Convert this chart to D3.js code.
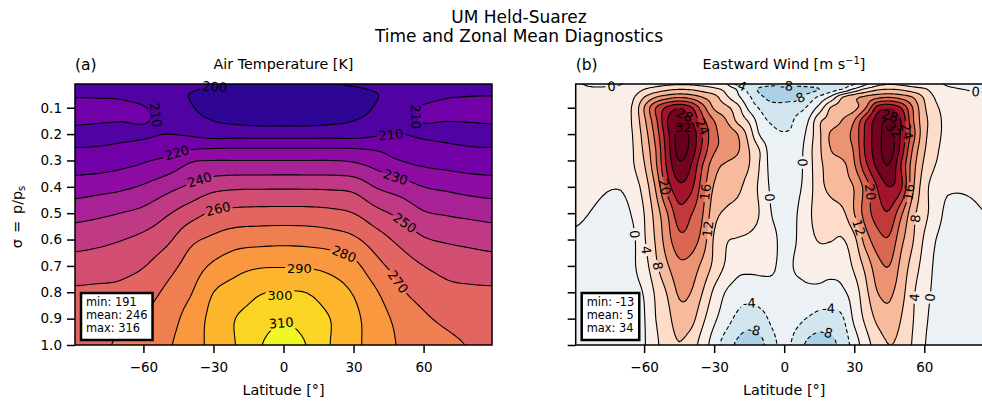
<!DOCTYPE html>
<html>
<head>
<meta charset="utf-8">
<script src="https://cdn.jsdelivr.net/npm/d3@7"></script>
<style>
  html, body { margin: 0; padding: 0; background: #fff; overflow: hidden; }
  text { font-family: "DejaVu Sans", sans-serif; fill: #000; }
</style>
</head>
<body>
<script>
var w = 982;
var h = 401;

var tempLats = d3.range(-90, 91, 10);
var tempSigmas = [0.01, 0.05, 0.1, 0.15, 0.2, 0.25, 0.3, 0.4, 0.5, 0.6, 0.7, 0.8, 0.9, 1.0];
var tempValues = [
  [205,205,205,204,203,202,200.7,199.7,199,199,199,199.7,200.7,202,203,204,205,205,205],
  [208.7,208.5,208,205.5,203,199.8,197,195,194,194,194,195,197,199.8,203,205.5,208.5,209.3,209.5],
  [214,213.5,213,210.6,205.5,200.8,196.5,192.5,191.5,191,191.5,192.5,196.5,200.8,205.5,211,213,213.7,214],
  [211.5,210.7,210.2,210.5,207.5,203.5,200,198,197,197,197,198,200,203.5,207.5,210.3,210.1,210.4,210.9],
  [207.5,207.5,207.8,208.5,210,208.7,206,206.3,206,206,206,206.3,206,208.7,210,208.5,207.8,207.5,207.5],
  [210,210.2,211.5,213.5,216,218,219,219.2,219.2,219.2,219.2,219.2,219,218,216,213.5,211.5,210.2,210],
  [214.5,214.7,216.5,219,222.5,229,230,230,230,230,230,230,229,225.5,220,217.5,216,214.8,214.5],
  [224.8,226.2,228,231.2,236.5,241.7,246.7,248.3,248.5,248.6,248.5,248.2,246.7,239.2,235,230,228,226,224.8],
  [236.2,237.8,240,242.8,248.8,255.5,261.6,263,263.5,263.6,263.5,262.5,260,252.9,247.5,241,239,237.5,236.2],
  [246,247.3,249.5,252.6,257.8,267.5,272,275.6,276.5,277,276.5,275,271.8,264.5,257.3,251,248.7,247.3,246],
  [254.2,255.2,256.8,259.5,266,274.1,281.7,286.7,289,289.3,289,287,282.7,273,265.6,260,256.8,255.2,254.2],
  [261.5,262,262.5,265.7,271.9,279,290,294.4,299.3,300.5,299.8,295,289.3,280.6,271.5,266.2,262.6,261.8,261.5],
  [265,266.5,268.5,271,275.5,284,293,300.4,304.5,308.5,305,300,292.5,284.5,277,271.5,268,266,265],
  [267,268.5,271,274,278.5,285.5,293,300.5,309.3,316,309.7,300,292.5,285.5,279,275,272,269.5,268]
];
var tempLevels = d3.range(180, 321, 10);
var tempLines = d3.range(200, 311, 10);
// level, lat, sigma of each inline contour label, optional fixed rotation
var tempLabels = [
  [200,-29.5,0.02,4],[210,-54.7,0.128,82],[220,-45,0.273],[240,-37,0.368],[260,-28.7,0.487],
  [210,56.7,0.134,88],[210,46.7,0.2],[230,49,0.358],[250,51,0.538],[270,48,0.76],
  [280,25,0.656],[290,6.8,0.71,0],[300,-1.5,0.81,0],[310,-1,0.916,-5]
];
var tempStats = ["min: 191", "mean: 246", "max: 316"];

var windLats = [-90,-80,-70,-65,-60,-55,-50,-45,-40,-35,-30,-25,-20,-15,-10,-5,0,5,10,15,20,25,30,35,40,45,50,55,60,65,70,80,90];
var windSigmas = [0.01, 0.03, 0.06, 0.1, 0.15, 0.2, 0.26, 0.32, 0.4, 0.5, 0.6, 0.7, 0.8, 0.9, 1.0];
var windValues = [
  [.3,-.5,-.1,1,2,2.8,3.4,3.7,3.6,3,2.2,.5,-4,-5,-6,-6.7,-6.8,-6.6,-6,-5.5,-5,-4.8,-4.3,-.5,3,3.8,3.4,2.5,1.5,.5,-.3,-1,-1],
  [.5,.4,1,1.8,4,5.8,7.2,7.9,7.6,6.5,5,3,-.5,-5.3,-9,-10.5,-10.5,-10,-9.4,-8,-5.8,-3.7,.9,5,7.4,8,7.5,6,4.6,2,.6,-.2,-.2],
  [.5,1,2.5,3.4,8,12,14.4,15.7,14.6,12,9.5,5,1,-3.4,-7.2,-9.5,-9.5,-8.7,-6.3,-3.2,1,8,11,13,15,15.8,14.5,12,7.5,3.5,2,.7,.5],
  [.7,1.3,2.8,4.3,12,20,25,27.5,24.8,17.8,11.5,9.1,5.4,-1.1,-4.6,-6.2,-6.4,-5.5,-3.5,1.5,8.3,9.5,10.8,16,25.7,27.4,24,16,8.6,4.6,2.6,1,.6],
  [1,1.6,2.5,4.3,11,19,28,32,28.5,21.4,16,12.3,7.2,3.4,-2.5,-4.6,-5.7,-3.4,-.4,7.2,9.4,12.3,16,24,30,32.4,28,16.8,9.4,5.5,2.6,1.3,1],
  [1.8,2,2.6,4,9.8,17.5,26.8,33.6,31,24,17,14.8,12,6.2,-.8,-3,-3.7,-3,1,7.2,12.6,14.6,17.3,25,30.3,33.8,27.5,18,9.3,5.3,2.8,2,1.8],
  [2.5,2.5,1.8,3.7,8.8,16,26,33.5,30.7,23,16.5,15,12.6,8,3.4,-2.7,-3.2,-2.5,2,7.2,12,14,16.5,25,30.3,34,26.5,15.7,8.4,4.7,2.4,2.3,2.4],
  [3,1.6,1.2,3.5,7.6,15.2,25,31,28,20,13.6,11.3,9.8,8,3.3,-1.8,-2.2,-1.8,1.8,7,9.5,10.8,15.5,23,29,31.7,24,14,7.2,3.8,2,2,3],
  [2.2,.6,.2,2,5.6,12.5,22,27,25.2,18,11.6,10,8.8,6.4,2.9,-1,-1.8,-1.1,1.8,6.7,9,10.5,12.2,17.8,24.3,28,24.8,13,5.7,2,.5,.6,2],
  [.6,-.4,-1.4,.4,4,9.7,16,22.4,20.4,16.3,9.5,7.4,6.5,5.5,3.6,-.3,-1.2,-.3,3,5.6,6.2,7.2,12,18,22,23.5,17,9.5,5.3,1.7,-.9,-.8,.4],
  [-.5,-1,-1.5,-.8,3.5,8.5,14.3,18.8,18.2,14.4,7.5,4.4,3.8,3.4,2.6,1,-1.2,-.1,2.5,4.3,4.2,3.8,7,14,18.4,19.4,13.3,8.4,3.5,0,-1.4,-2,-2],
  [-2,-2.2,-1.7,-.6,2.2,7.2,11.6,15,14.4,11,7,3.5,1.2,1,.8,.4,-.9,.3,.9,1.4,1.4,1.5,4.8,9.3,14.5,16,11,6.4,2.4,-.7,-1.6,-2,-2],
  [-1.8,-2,-1.5,-.9,.3,4.7,8.4,12.6,12,8,3.2,-.2,-1.7,-2.4,-1.6,-1,-.8,-1,-.7,-.9,-1.5,-.6,2,7,12,12.8,9.6,4.8,1.3,-.8,-1.5,-2,-2],
  [-1.8,-2,-1.7,-1,-.2,4,6.8,10.2,9.5,5,.8,-2.2,-5,-6.4,-5.5,-3,-1.6,-2.8,-4.2,-5.5,-5.6,-4.4,.8,5,9,10.8,8,4.3,.7,-1,-1.5,-1.8,-1.8],
  [-1.5,-1.8,-1.5,-1,-.3,3.2,6,7.8,6,2.2,-2,-5.9,-8.7,-9.8,-9,-5.3,-2.8,-5.5,-8.8,-9.9,-9.1,-6.5,-2.2,2.4,5.8,8,6.8,3.7,.2,-1,-1.3,-1.5,-1.5]
];
var windLevels = d3.range(-36, 37, 4);
var windLines = d3.range(-8, 33, 4);
var windLabels = [
  [0,-74.8,0.02],[-4,-19.5,0.03],[-8,1.1,0.027],[-8,6,0.07],[0,81,0.039],
  [28,-42.6,0.128,25],[32,-43.2,0.175,0],[24,-35,0.172,65],[20,-50.8,0.4],[16,-33,0.425],
  [12,-33.2,0.55],[8,-53,0.696],[4,-58.4,0.645],[0,-63.6,0.582],[-4,-14.6,0.845],[-8,-13.7,0.95],
  [0,-6.1,0.43],[0,7.7,0.31],
  [28,45.3,0.13,15],[32,47,0.185,50],[24,52.6,0.19,78],[20,36.4,0.43],[16,53,0.42],
  [12,32.5,0.55],[8,56.4,0.52],[4,56,0.816],[0,62.4,0.816],[-4,18.3,0.84],[-8,18.3,0.94]
];
var windStats = ["min: -13", "mean: 5", "max: 34"];

var latTicks = [-60, -30, 0, 30, 60];
var sigmaTicks = d3.range(1, 11).map(function(d) { return d / 10; });

var axTop = 84;
var axBottom = 345;
var axWidth = 417;
var refine = 5;

var svg = d3.select("body").append("svg")
  .attr("width", w)
  .attr("height", h);

// matplotlib RdBu_r steps, linear between them
var rdbu = d3.scaleLinear()
  .domain(d3.range(11).map(function(d) { return d / 10; }))
  .range(["#053061","#2166ac","#4393c3","#92c5de","#d1e5f0","#f7f7f7","#fddbc7","#f4a582","#d6604d","#b2182b","#67001f"])
  .clamp(true);

// smooth the read-off grid for drawing only (Catmull-Rom)
function refineGrid(rows, k) {
  var nr = rows.length, nc = rows[0].length;
  var dx = (nc - 1) * k + 1, dy = (nr - 1) * k + 1;
  var out = new Array(dx * dy);
  function at(r, c) {
    return rows[Math.max(0, Math.min(nr - 1, r))][Math.max(0, Math.min(nc - 1, c))];
  }
  function cr(a, b, c, d, t) {
    return 0.5 * (2 * b + (c - a) * t + (2 * a - 5 * b + 4 * c - d) * t * t + (3 * b - a - 3 * c + d) * t * t * t);
  }
  for (var j = 0; j < dy; j++) {
    var r = Math.floor(j / k), tr = j / k - r;
    for (var i = 0; i < dx; i++) {
      var c = Math.floor(i / k), tc = i / k - c;
      var col = [];
      for (var m = -1; m <= 2; m++) {
        col.push(cr(at(r + m, c - 1), at(r + m, c), at(r + m, c + 1), at(r + m, c + 2), tc));
      }
      out[j * dx + i] = cr(col[0], col[1], col[2], col[3], tr);
    }
  }
  return { values: out, dx: dx, dy: dy };
}

function drawPanel(p) {
  var x = d3.scaleLinear().domain([-89.3, 89.3]).range([p.left, p.left + axWidth]);
  var y = d3.scaleLinear().domain([0.01, 1]).range([axTop, axBottom]);
  var colToLat = d3.scaleLinear().domain(d3.range(p.lats.length)).range(p.lats);
  var rowToSigma = d3.scaleLinear().domain(d3.range(p.sigmas.length)).range(p.sigmas);

  function px(gx) { return x(colToLat((gx - 0.5) / refine)); }
  function py(gy) { return y(rowToSigma((gy - 0.5) / refine)); }

  var grid = refineGrid(p.values, refine);
  var contours = d3.contours().size([grid.dx, grid.dy]).smooth(true);
  var path = d3.geoPath(d3.geoTransform({
    point: function(a, b) { this.stream.point(px(a), py(b)); }
  }));

  var clipId = "clip-" + p.id;
  svg.append("clipPath").attr("id", clipId).append("rect")
    .attr("x", p.left).attr("y", axTop)
    .attr("width", axWidth).attr("height", axBottom - axTop);

  var plot = svg.append("g").attr("clip-path", "url(#" + clipId + ")");

  // filled bands, lowest first
  plot.append("g").selectAll("path")
    .data(p.levels.slice(0, -1))
    .enter()
    .append("path")
    .attr("d", function(d) { return path(contours.contour(grid.values, d)); })
    .attr("fill", function(d) { return p.color(d + p.step / 2); });

  function maskId(level) { return "mask-" + p.id + "-" + (level + 100); }

  var lineGroup = plot.append("g");
  lineGroup.selectAll("path")
    .data(p.lines)
    .enter()
    .append("path")
    .attr("d", function(d) { return path(contours.contour(grid.values, d)); })
    .attr("fill", "none")
    .attr("stroke", "#000")
    .attr("stroke-width", 1.1)
    .attr("stroke-dasharray", function(d) { return d < 0 ? "4,2.5" : null; })
    .attr("mask", function(d) { return "url(#" + maskId(d) + ")"; });

  // labels sit on the nearest point of their contour, along its direction
  var placed = p.labels.map(function(l) {
    var ax = x(l[1]), ay = y(l[2]);
    if (l[3] !== undefined) return { level: l[0], x: ax, y: ay, angle: l[3] };
    var best = null;
    contours.contour(grid.values, l[0]).coordinates.forEach(function(poly) {
      poly.forEach(function(ring) {
        var pts = ring.map(function(q) { return [px(q[0]), py(q[1])]; });
        pts.forEach(function(q, i) {
          var dd = (q[0] - ax) * (q[0] - ax) + (q[1] - ay) * (q[1] - ay);
          if (!best || dd < best.dd) best = { dd: dd, pts: pts, i: i };
        });
      });
    });
    var n = best.pts.length;
    var a = best.pts[(best.i - 4 + n) % n], b = best.pts[(best.i + 4) % n];
    var angle = Math.atan2(b[1] - a[1], b[0] - a[0]) * 180 / Math.PI;
    if (angle > 90) angle -= 180;
    if (angle <= -90) angle += 180;
    return { level: l[0], x: best.pts[best.i][0], y: best.pts[best.i][1], angle: angle };
  });

  var labelText = svg.append("g").selectAll("text")
    .data(placed)
    .enter()
    .append("text")
    .text(function(d) { return d.level; })
    .attr("font-size", 13)
    .attr("text-anchor", "middle")
    .attr("dy", "0.36em")
    .attr("transform", function(d) { return "translate(" + d.x + "," + d.y + ") rotate(" + d.angle + ")"; });

  // one mask per level so a label only breaks its own contour
  var masks = {};
  p.lines.forEach(function(level) {
    var m = svg.append("mask").attr("id", maskId(level))
      .attr("maskUnits", "userSpaceOnUse")
      .attr("x", 0).attr("y", 0).attr("width", w).attr("height", h);
    m.append("rect").attr("width", w).attr("height", h).attr("fill", "#fff");
    masks[level] = m;
  });
  labelText.each(function(d) {
    var tw = this.getComputedTextLength() + 4;
    masks[d.level].append("rect")
      .attr("x", -tw / 2).attr("y", -7).attr("width", tw).attr("height", 14)
      .attr("fill", "#000")
      .attr("transform", "translate(" + d.x + "," + d.y + ") rotate(" + d.angle + ")");
  });

  // axes
  var xAxis = d3.axisBottom(x).tickValues(latTicks).tickSizeOuter(0).tickSize(8).tickPadding(9);
  var yAxis = d3.axisLeft(y).tickValues(sigmaTicks).tickSizeOuter(0).tickSize(8).tickPadding(5)
    .tickFormat(p.yLabels ? d3.format(".1f") : "");

  var gx = svg.append("g").attr("transform", "translate(0," + axBottom + ")").call(xAxis);
  var gy = svg.append("g").attr("transform", "translate(" + p.left + ",0)").call(yAxis);
  [gx, gy].forEach(function(g) {
    g.selectAll("path").remove();
    g.selectAll("line").attr("stroke", "#000").attr("stroke-width", 1.5);
    g.selectAll("text").attr("font-size", 13.5).attr("font-family", "DejaVu Sans").attr("fill", "#000");
  });

  svg.append("rect")
    .attr("x", p.left).attr("y", axTop)
    .attr("width", axWidth).attr("height", axBottom - axTop)
    .attr("fill", "none").attr("stroke", "#000").attr("stroke-width", 1.5);

  svg.append("text").attr("x", p.left + axWidth / 2).attr("y", 395)
    .attr("text-anchor", "middle").attr("font-size", 14.4).text("Latitude [°]");

  svg.append("text").attr("x", p.left).attr("y", 70)
    .attr("font-size", 15.5).text(p.tag);

  // stats box
  var bx = p.left + 6, by = 293;
  var box = svg.append("rect").attr("x", bx).attr("y", by).attr("height", 47)
    .attr("fill", "#fff").attr("stroke", "#000").attr("stroke-width", 2.5);
  var maxLen = 0;
  p.stats.forEach(function(s, i) {
    var t = svg.append("text").attr("x", bx + 5).attr("y", by + 13 + i * 13.2)
      .attr("font-size", 11.4).text(s);
    maxLen = Math.max(maxLen, t.node().getComputedTextLength());
  });
  box.attr("width", maxLen + 10);

  return svg.append("text").attr("x", p.left + axWidth / 2).attr("y", 69)
    .attr("text-anchor", "middle").attr("font-size", 14.3);
}

var titleA = drawPanel({
  id: "a", left: 75, tag: "(a)", yLabels: true, step: 10,
  lats: tempLats, sigmas: tempSigmas, values: tempValues,
  levels: tempLevels, lines: tempLines, labels: tempLabels, stats: tempStats,
  color: function(m) { return d3.interpolatePlasma(Math.min(1, (m - 187) / 129)); }
});
titleA.text("Air Temperature [K]");

var titleB = drawPanel({
  id: "b", left: 575.7, tag: "(b)", yLabels: false, step: 4,
  lats: windLats, sigmas: windSigmas, values: windValues,
  levels: windLevels, lines: windLines, labels: windLabels, stats: windStats,
  color: function(m) { return rdbu(0.5 + m / 62); }
});
titleB.attr("x", 784).text("Eastward Wind [m s");
titleB.append("tspan").attr("dy", -5).attr("font-size", 10).text("−1");
titleB.append("tspan").attr("dy", 5).text("]");

svg.append("text").attr("x", 519).attr("y", 23).attr("text-anchor", "middle")
  .attr("font-size", 17).text("UM Held-Suarez");
svg.append("text").attr("x", 519).attr("y", 41.5).attr("text-anchor", "middle")
  .attr("font-size", 17).text("Time and Zonal Mean Diagnostics");

var yTitle = svg.append("text")
  .attr("transform", "translate(22,217) rotate(-90)")
  .attr("text-anchor", "middle").attr("font-size", 14.4)
  .attr("word-spacing", 2)
  .text("σ = p/p");
yTitle.append("tspan").attr("dy", 3).attr("font-size", 10).text("s");
</script>
</body>
</html>
